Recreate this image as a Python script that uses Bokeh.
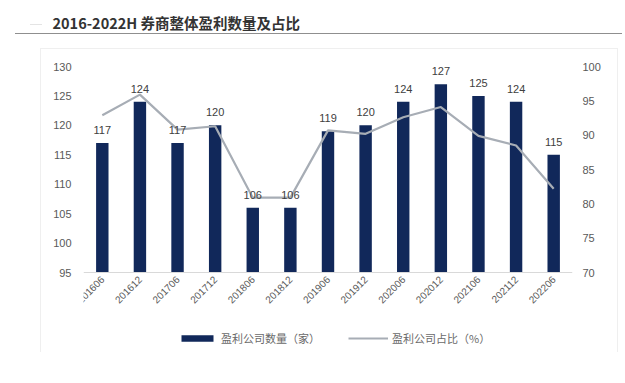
import math
from bokeh.plotting import figure
from bokeh.models import (FactorRange, Range1d, LinearAxis, ColumnDataSource,
                          LabelSet, Legend, LegendItem, FixedTicker)
from bokeh.core.properties import value
from bokeh.embed import file_html
from bokeh.resources import INLINE

# ---- data ----
periods = ["201606", "201612", "201706", "201712", "201806", "201812", "201906",
           "201912", "202006", "202012", "202106", "202112", "202206"]
counts = [117, 124, 117, 120, 106, 106, 119, 120, 124, 127, 125, 124, 115]
ratios = [92.9, 95.9, 90.8, 91.3, 80.9, 80.9, 90.7, 90.2, 92.6, 94.1, 89.9, 88.5, 82.2]
left_ticks = [95, 100, 105, 110, 115, 120, 125, 130]
right_ticks = [70, 75, 80, 85, 90, 95, 100]
title_text = "2016-2022H 券商整体盈利数量及占比"
bar_name = "盈利公司数量（家）"
line_name = "盈利公司占比（%）"

BAR_COLOR = "#11285a"
LINE_COLOR = "#a7adb5"
TXT = "#595959"
FONT = "Liberation Sans"
CJK = "Noto Sans CJK SC"

# layout: tick span 206px tall; frame extends 26px above top tick, 80px below base
TICK_PX, PX_TOP, PX_BOT = 206, 26, 80
FRAME_H = TICK_PX + PX_TOP + PX_BOT


def ext_range(ticks):
    k = (ticks[-1] - ticks[0]) / TICK_PX
    return Range1d(ticks[0] - PX_BOT * k, ticks[-1] + PX_TOP * k)


src = ColumnDataSource(dict(period=periods, count=counts, ratio=ratios,
                            label=[str(c) for c in counts]))

p = figure(frame_width=489, frame_height=FRAME_H,
           x_range=FactorRange(*periods, range_padding=0),
           y_range=ext_range(left_ticks), toolbar_location=None, output_backend="svg",
           min_border_left=83, min_border_right=50, min_border_top=40,
           min_border_bottom=0)
p.xgrid.visible = False
p.ygrid.visible = False
p.outline_line_color = None
p.border_fill_color = None
p.background_fill_color = None
p.extra_y_ranges = {"pct": ext_range(right_ticks)}

# decorative rules of the original layout (title underline, chart box, footer rule)
rules = [("#8f8f8f", 15, 33, 607, 1), ("#e4e4e4", 30, 24, 12, 1),
         ("#efefef", 40, 48, 577, 1), ("#efefef", 40, 48, 1, 312),
         ("#efefef", 617, 48, 1, 312), ("#e8e8e8", 40, 360, 577, 1),
         ("#c4c4c4", 15, 374, 607, 2)]
p.styles = {
    "background-image": ", ".join(f"linear-gradient({c},{c})" for c, *_ in rules),
    "background-position": ", ".join(f"{x}px {y}px" for _, x, y, _w, _h in rules),
    "background-size": ", ".join(f"{w}px {h}px" for _, _x, _y, w, h in rules),
    "background-repeat": "no-repeat",
}

# title
p.title.text = title_text
p.title.align = "left"
p.title.vertical_align = "top"
p.title.offset = -31
p.title.standoff = 12
p.title.text_font = CJK
p.title.text_font_size = "14.5px"
p.title.text_font_style = "bold"
p.title.text_color = "#333333"

bars = p.vbar(x="period", top="count", bottom=left_ticks[0], width=0.33, source=src,
              fill_color=BAR_COLOR, line_color=None)
line = p.line(x="period", y="ratio", source=src, y_range_name="pct",
              line_color=LINE_COLOR, line_width=2.2)

labels = LabelSet(x="period", y="count", text="label", source=src,
                  text_align="center", text_baseline="alphabetic", y_offset=9,
                  text_font=value(FONT), text_font_size="11px", text_color="#404040")
p.add_layout(labels)

# left axis
ya = p.yaxis[0]
ya.ticker = FixedTicker(ticks=left_ticks)
# right axis
ra = LinearAxis(y_range_name="pct", ticker=FixedTicker(ticks=right_ticks))
p.add_layout(ra, "right")
for ax in (ya, ra):
    ax.axis_line_color = None
    ax.major_tick_line_color = None
    ax.minor_tick_line_color = None
    ax.major_tick_out = 0
    ax.major_tick_in = 0
    ax.minor_tick_out = 0
    ax.major_label_text_font = FONT
    ax.major_label_text_font_size = "11px"
    ax.major_label_text_color = TXT
ya.major_label_standoff = 12
ra.major_label_standoff = 10

# category axis drawn at the bar base
xa = p.xaxis[0]
xa.fixed_location = left_ticks[0]
xa.axis_line_color = "#d9d9d9"
xa.axis_line_width = 1
xa.major_tick_line_color = None
xa.minor_tick_line_color = None
xa.major_tick_out = 0
xa.major_tick_in = 0
xa.major_label_orientation = math.pi / 4
xa.major_label_standoff = 5
xa.major_label_text_font = FONT
xa.major_label_text_font_size = "10px"
xa.major_label_text_color = TXT

legend = Legend(items=[LegendItem(label=bar_name, renderers=[bars]),
                       LegendItem(label=line_name, renderers=[line])],
                orientation="horizontal", location=(94, 6),
                glyph_width=40, glyph_height=8, label_height=12, label_standoff=4,
                spacing=28, padding=0, margin=0, border_line_color=None,
                background_fill_alpha=0,
                label_text_font=CJK, label_text_font_size="11px",
                label_text_color="#6a6a6a")
p.add_layout(legend)

open("out.html", "w").write(file_html(p, INLINE))
